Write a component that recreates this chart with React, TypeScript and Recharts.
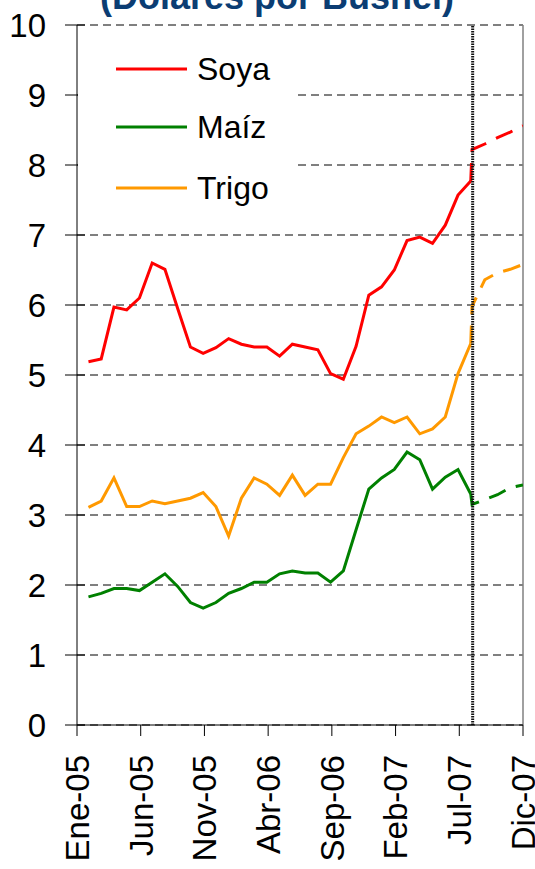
import React from "react";
import {
  LineChart,
  Line,
  XAxis,
  YAxis,
  CartesianGrid,
  ReferenceLine,
} from "recharts";

// months since Ene-05; monthly closes sit at the end of each month
const xTicks = [0, 5, 10, 15, 20, 25, 30, 35];
const xTickLabels = ["Ene-05", "Jun-05", "Nov-05", "Abr-06", "Sep-06", "Feb-07", "Jul-07", "Dic-07"];
const yTicks = [0, 1, 2, 3, 4, 5, 6, 7, 8, 9, 10];

// Ene-05 .. Jul-07
const soya = [5.19, 5.23, 5.97, 5.93, 6.1, 6.6, 6.51, 5.95, 5.4, 5.31, 5.39, 5.52, 5.44, 5.4, 5.4, 5.27, 5.44, 5.4, 5.36, 5.02, 4.94, 5.41, 6.14, 6.26, 6.5, 6.92, 6.97, 6.88, 7.14, 7.57, 7.77];
const maiz = [1.83, 1.88, 1.95, 1.95, 1.92, 2.04, 2.16, 1.98, 1.75, 1.67, 1.75, 1.88, 1.95, 2.04, 2.04, 2.16, 2.2, 2.17, 2.17, 2.04, 2.2, 2.79, 3.37, 3.53, 3.65, 3.9, 3.79, 3.37, 3.54, 3.65, 3.3];
const trigo = [3.11, 3.2, 3.53, 3.12, 3.12, 3.2, 3.16, 3.2, 3.24, 3.32, 3.12, 2.7, 3.24, 3.53, 3.44, 3.28, 3.57, 3.28, 3.44, 3.44, 3.82, 4.16, 4.27, 4.4, 4.32, 4.4, 4.16, 4.23, 4.4, 5.02, 5.45];

// futuros: from the last close, then Ago-07 .. Dic-07
const futMonths = [30.9, 31, 32, 33, 34, 35];
const soyaFut = [7.77, 8.22, 8.3, 8.39, 8.47, 8.56];
const maizFut = [3.3, 3.15, 3.22, 3.29, 3.39, 3.43];
const trigoFut = [5.45, 5.98, 6.36, 6.46, 6.51, 6.58];

const hist = (vals: number[]) => vals.map((v, i) => ({ x: i + 0.9, v }));
const fut = (vals: number[]) => vals.map((v, i) => ({ x: futMonths[i], v }));

const FONT = "'Liberation Sans', Arial, sans-serif";
const RED = "#ff0000";
const GREEN = "#008000";
const ORANGE = "#ff9900";

const YTick = (props: any) => {
  const { x, y, payload } = props;
  return (
    <g>
      <line x1={x - 12} x2={x + 8} y1={y} y2={y} stroke="#000" />
      <text x={x - 31} y={y} dy="0.35em" textAnchor="end" fontSize={33} fontFamily={FONT} fill="#000">
        {payload.value}
      </text>
    </g>
  );
};

const XTick = (props: any) => {
  const { x, y, payload } = props;
  const label = xTickLabels[xTicks.indexOf(payload.value)];
  return (
    <g>
      <line x1={x} x2={x} y1={y} y2={y + 11} stroke="#000" />
      <text
        x={x}
        y={y + 30}
        dy="0.36em"
        textAnchor="end"
        fontSize={33}
        fontFamily={FONT}
        fill="#000"
        transform={`rotate(-90 ${x} ${y + 30})`}
      >
        {label}
      </text>
    </g>
  );
};

const legendItems = [
  { name: "Soya", color: RED, y: 69 },
  { name: "Maíz", color: GREEN, y: 127 },
  { name: "Trigo", color: ORANGE, y: 188 },
];

export default function App() {
  return (
    <div style={{ position: "absolute", left: 0, top: 0, width: 535, height: 869, background: "#fff" }}>
      <LineChart width={535} height={869} margin={{ top: 25, right: 12, bottom: 0, left: 0 }}>
        <CartesianGrid horizontal vertical={false} stroke="#000" strokeDasharray="8 5" />
        <XAxis
          dataKey="x"
          type="number"
          domain={[0, 35]}
          ticks={xTicks}
          interval={0}
          height={144}
          tickSize={0}
          tickMargin={0}
          tickLine={false}
          tick={<XTick />}
          axisLine={{ stroke: "#000" }}
          allowDataOverflow
        />
        <YAxis
          type="number"
          domain={[0, 10]}
          ticks={yTicks}
          interval={0}
          width={77}
          tickSize={0}
          tickMargin={0}
          tickLine={false}
          tick={<YTick />}
          axisLine={{ stroke: "#000" }}
        />
        <ReferenceLine x={35} stroke="#808080" strokeWidth={1.5} />
        <Line data={hist(soya)} dataKey="v" stroke={RED} strokeWidth={3} dot={false} isAnimationActive={false} />
        <Line data={hist(maiz)} dataKey="v" stroke={GREEN} strokeWidth={3} dot={false} isAnimationActive={false} />
        <Line data={hist(trigo)} dataKey="v" stroke={ORANGE} strokeWidth={3} dot={false} isAnimationActive={false} />
        <Line data={fut(soyaFut)} dataKey="v" stroke={RED} strokeWidth={3} strokeDasharray="18 11" dot={false} isAnimationActive={false} />
        <Line data={fut(maizFut)} dataKey="v" stroke={GREEN} strokeWidth={3} strokeDasharray="18 11" dot={false} isAnimationActive={false} />
        <Line data={fut(trigoFut)} dataKey="v" stroke={ORANGE} strokeWidth={3} strokeDasharray="18 11" dot={false} isAnimationActive={false} />
        <ReferenceLine x={31.05} stroke="#111" strokeWidth={3} strokeDasharray="1.5 1" />
      </LineChart>
      <svg width={535} height={869} style={{ position: "absolute", left: 0, top: 0, pointerEvents: "none" }}>
        <text x={277} y={9} textAnchor="middle" fontSize={36} fontWeight="bold" fontFamily={FONT} fill="#0b3d73">
          (Dólares por Bushel)
        </text>
        <rect x={78} y={34} width={218} height={182} fill="#fff" />
        {legendItems.map((it) => (
          <g key={it.name}>
            <line x1={116} x2={187} y1={it.y} y2={it.y} stroke={it.color} strokeWidth={3} />
            <text x={197} y={it.y} dy="0.35em" fontSize={32} fontFamily={FONT} fill="#000">
              {it.name}
            </text>
          </g>
        ))}
      </svg>
    </div>
  );
}
